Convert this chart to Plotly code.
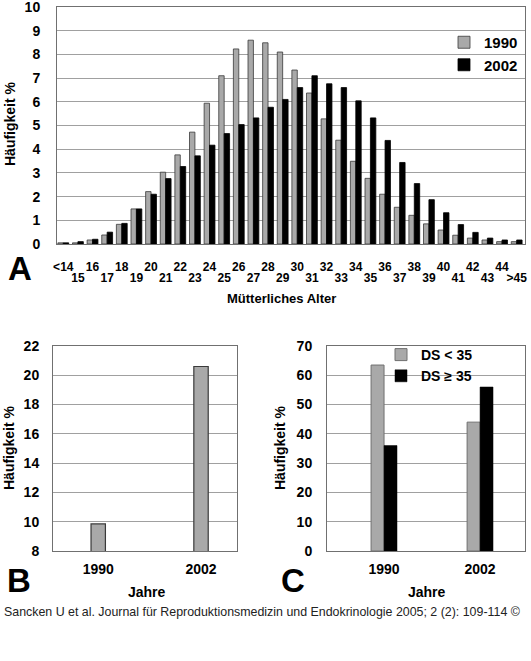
import plotly.graph_objects as go

# ---------------- data ----------------
age_labels = ["<14"] + [str(a) for a in range(15, 45)] + [">45"]
freq_1990 = [0.05, 0.05, 0.17, 0.38, 0.83, 1.48, 2.21, 3.03, 3.76, 4.72, 5.94, 7.10,
             8.23, 8.60, 8.49, 8.10, 7.34, 6.37, 5.28, 4.38, 3.49, 2.77, 2.10, 1.55,
             1.21, 0.85, 0.59, 0.37, 0.25, 0.17, 0.10, 0.10]
freq_2002 = [0.05, 0.10, 0.20, 0.50, 0.87, 1.48, 2.10, 2.76, 3.27, 3.72, 4.17, 4.66,
             5.04, 5.32, 5.77, 6.10, 6.60, 7.10, 6.76, 6.60, 6.04, 5.32, 4.37, 3.44,
             2.55, 1.87, 1.32, 0.82, 0.49, 0.25, 0.17, 0.17]

years = ["1990", "2002"]
b_values = [9.85, 20.6]

c_ds_lt35 = [63.5, 44.0]
c_ds_ge35 = [36.0, 56.0]

GRAY = "#a9a9a9"
OUT = "#3a3a3a"
GRID = "#a0a0a0"
FONT = "Liberation Sans, Arial, sans-serif"
W, H = 531, 661

def px(x):
    return x / W

def py(y):
    return 1 - y / H

fig = go.Figure()

idx = list(range(len(age_labels)))
even_idx = idx[0::2]
odd_idx = idx[1::2]
bw = 0.37
fig.add_trace(go.Bar(x=idx, y=freq_1990, name="1990", width=bw, offset=-bw,
                     marker=dict(color=GRAY, line=dict(color=OUT, width=0.8)),
                     xaxis="x", yaxis="y", legend="legend"))
fig.add_trace(go.Bar(x=idx, y=freq_2002, name="2002", width=bw, offset=0,
                     marker=dict(color="#000000", line=dict(color="#000000", width=0.8)),
                     xaxis="x", yaxis="y", legend="legend"))
# invisible carrier trace for the second row of age labels
fig.add_trace(go.Scatter(x=[idx[0]], y=[0], mode="markers", opacity=0,
                         showlegend=False, hoverinfo="skip",
                         xaxis="x4", yaxis="y"))

# B
fig.add_trace(go.Bar(x=years, y=b_values, width=0.14, showlegend=False,
                     marker=dict(color=GRAY, line=dict(color=OUT, width=1.2)),
                     xaxis="x2", yaxis="y2"))

# C
cw = 0.135
fig.add_trace(go.Bar(x=years, y=c_ds_lt35, name="DS < 35", width=cw, offset=-cw,
                     marker=dict(color=GRAY, line=dict(color="#707070", width=1)),
                     xaxis="x3", yaxis="y3", legend="legend2"))
fig.add_trace(go.Bar(x=years, y=c_ds_ge35, name="DS ≥ 35", width=cw, offset=0,
                     marker=dict(color="#000000", line=dict(color="#000000", width=0.5)),
                     xaxis="x3", yaxis="y3", legend="legend2"))

def tf(size):
    return dict(family=FONT, size=size, color="#000000", weight="bold")

axis_common = dict(showline=True, mirror=True, linecolor="#707070", linewidth=1,
                   zeroline=False, ticks="", tickangle=0, automargin=False)

fig.update_layout(
    width=W, height=H,
    margin=dict(l=0, r=0, t=0, b=0, autoexpand=False),
    paper_bgcolor="white", plot_bgcolor="white",
    font=dict(family=FONT, color="#000000"),
    xaxis=dict(domain=[px(57), px(525)], range=[-0.43, 31.57], tickmode="array",
               tickvals=even_idx, ticktext=[age_labels[i] for i in even_idx],
               showgrid=False, anchor="y",
               ticklabelstandoff=12, tickfont=tf(12), **axis_common),
    xaxis4=dict(overlaying="x", anchor="y", side="bottom", range=[-0.43, 31.57],
                tickmode="array", tickvals=odd_idx,
                ticktext=[age_labels[i] for i in odd_idx],
                showgrid=False, showline=False, zeroline=False, ticks="",
                tickangle=0, automargin=False, ticklabelstandoff=25, tickfont=tf(12)),
    yaxis=dict(domain=[py(244), py(7)], range=[0, 10], dtick=1, showgrid=True,
               gridcolor=GRID, gridwidth=1, anchor="x", ticklabelstandoff=13,
               tickfont=tf(14), **axis_common),
    xaxis2=dict(domain=[px(53), px(237)], range=[-0.44, 1.35], type="category",
                showgrid=False, anchor="y2", ticklabelstandoff=5, tickfont=tf(14),
                **axis_common),
    yaxis2=dict(domain=[py(551), py(346)], range=[8, 22], dtick=2, showgrid=True,
                gridcolor=GRID, anchor="x2", ticklabelstandoff=10, tickfont=tf(14),
                **axis_common),
    xaxis3=dict(domain=[px(327), px(525)], range=[-0.594, 1.468], type="category",
                showgrid=False, anchor="y3", ticklabelstandoff=5, tickfont=tf(14),
                **axis_common),
    yaxis3=dict(domain=[py(551), py(346)], range=[0, 70], dtick=10, showgrid=True,
                gridcolor=GRID, anchor="x3", ticklabelstandoff=11, tickfont=tf(14),
                **axis_common),
    legend=dict(x=px(444), y=py(26), xanchor="left", yanchor="top",
                bgcolor="rgba(0,0,0,0)", borderwidth=0, itemwidth=30,
                font=tf(15)),
    legend2=dict(x=px(381), y=py(339), xanchor="left", yanchor="top",
                 bgcolor="rgba(0,0,0,0)", borderwidth=0, itemwidth=30,
                 font=tf(14)),
    # white backing behind the second legend entry of panel C (hides the grid line there)
    shapes=[dict(type="rect", xref="paper", yref="paper", layer="between",
                 x0=px(393), x1=px(473), y0=py(384), y1=py(367),
                 fillcolor="white", line=dict(width=0))],
)

annos = [
    dict(text="Häufigkeit %", x=px(10), y=py(124), textangle=-90, font=tf(14)),
    dict(text="Mütterliches Alter", x=px(281), y=py(298), font=tf(13)),
    dict(text="Häufigkeit %", x=px(9), y=py(448), textangle=-90, font=tf(14)),
    dict(text="Jahre", x=px(147), y=py(592), font=tf(14)),
    dict(text="Häufigkeit %", x=px(280), y=py(448), textangle=-90, font=tf(14)),
    dict(text="Jahre", x=px(427), y=py(592), font=tf(14)),
    dict(text="A", x=px(20), y=py(268), font=tf(33)),
    dict(text="B", x=px(19), y=py(580), font=tf(33)),
    dict(text="C", x=px(293), y=py(580), font=tf(33)),
    dict(text="Sancken U et al. Journal für Reproduktionsmedizin und Endokrinologie 2005; 2 (2): 109-114 ©",
         x=px(2), y=py(612), xanchor="left", font=dict(family=FONT, size=12.4, color="#222")),
]
for a in annos:
    a.setdefault("xanchor", "center")
    a.update(xref="paper", yref="paper", showarrow=False, yanchor="middle")
    fig.add_annotation(**a)

fig.write_html("out.html", config={"displayModeBar": False},
               post_script="document.body.style.margin='0';document.body.style.overflow='hidden';")
